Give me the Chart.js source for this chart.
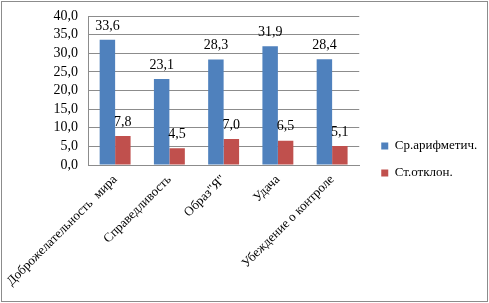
<!DOCTYPE html>
<html><head><meta charset="utf-8">
<script src="https://cdn.jsdelivr.net/npm/chart.js@4"></script>
<style>html,body{margin:0;padding:0;background:#fff}#wrap{width:489px;height:303px}</style>
</head><body><div id="wrap"><canvas id="c" width="489" height="303"></canvas></div>
<script>
const categories = ['Доброжелательность  мира','Справедливость','Образ"Я"','Удача','Убеждение о контроле'];
const meanValues = [33.6, 23.1, 28.3, 31.9, 28.4];
const sdValues = [7.8, 4.5, 7.0, 6.5, 5.1];
const seriesNames = ['Ср.арифметич.', 'Ст.отклон.'];
const FONT = '"Liberation Serif", "Times New Roman", serif';
const fmt = v => v.toFixed(1).replace('.', ',');

const frame = {
  id: 'frame',
  beforeDraw(chart) {
    const ctx = chart.ctx;
    ctx.save();
    ctx.fillStyle = '#fff';
    ctx.fillRect(0, 0, chart.width, chart.height);
    ctx.restore();
  },
  afterLayout(chart) {
    const lg = chart.legend;
    if (lg) {
      const target = chart.chartArea.right + 8;
      const dx = target - lg.left;
      lg.left += dx; lg.right += dx;
    }
  },
  afterDraw(chart) {
    const ctx = chart.ctx;
    ctx.save();
    ctx.strokeStyle = '#8c8c8c';
    ctx.lineWidth = 1;
    ctx.strokeRect(1.5, 1.5, chart.width - 3, chart.height - 3);
    ctx.restore();
  }
};
const valueLabels = {
  id: 'valueLabels',
  afterDatasetsDraw(chart) {
    const ctx = chart.ctx;
    ctx.save();
    ctx.font = '14px ' + FONT;
    ctx.fillStyle = '#000';
    ctx.textAlign = 'center';
    ctx.textBaseline = 'bottom';
    chart.data.datasets.forEach((ds, i) => {
      chart.getDatasetMeta(i).data.forEach((bar, j) => {
        ctx.fillText(fmt(ds.data[j]), bar.x, bar.y - 7);
      });
    });
    ctx.restore();
  }
};

new Chart(document.getElementById('c'), {
  type: 'bar',
  data: {
    labels: categories,
    datasets: [
      { label: seriesNames[0], data: meanValues, backgroundColor: '#4F81BD' },
      { label: seriesNames[1], data: sdValues, backgroundColor: '#C0504D' }
    ]
  },
  options: {
    responsive: false,
    animation: false,
    devicePixelRatio: 1,
    layout: { padding: { top: 16, right: 10, left: 0, bottom: 0 } },
    datasets: { bar: { categoryPercentage: 0.57, barPercentage: 1 } },
    plugins: {
      legend: {
        position: 'right',
        labels: { boxWidth: 7, boxHeight: 7, padding: 14, color: '#000', font: { family: FONT, size: 13 } }
      },
      tooltip: { enabled: false }
    },
    scales: {
      x: {
        grid: { display: false, drawTicks: false },
        border: { color: '#8c8c8c' },
        ticks: { minRotation: 45, maxRotation: 45, autoSkip: false, color: '#000', padding: 7, font: { family: FONT, size: 13 } },
        afterFit(s) { s.height = 138; s.paddingLeft = 0; s.paddingRight = 0; }
      },
      y: {
        min: 0, max: 40,
        grid: { color: '#8c8c8c', drawTicks: false },
        border: { color: '#8c8c8c' },
        ticks: { stepSize: 5, autoSkip: false, color: '#000', padding: 10, font: { family: FONT, size: 14 }, callback: v => fmt(v) },
        afterFit(s) { s.width = 88; s.paddingTop = 0; s.paddingBottom = 0; }
      }
    }
  },
  plugins: [frame, valueLabels]
});
</script>
</body></html>
